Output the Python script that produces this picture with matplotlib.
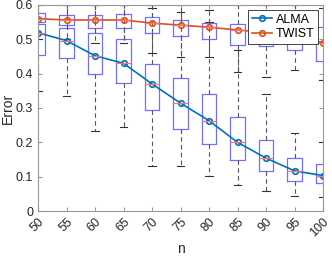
import matplotlib
matplotlib.use("Agg")
import matplotlib.pyplot as plt
import matplotlib.transforms as mtransforms

plt.rcParams["font.family"] = ["Liberation Sans", "DejaVu Sans"]

n = [50, 55, 60, 65, 70, 75, 80, 85, 90, 95, 100]

# ALMA box stats
alma_q1 = [0.454, 0.446, 0.400, 0.373, 0.294, 0.239, 0.195, 0.148, 0.117, 0.087, 0.082]
alma_med = [0.519, 0.496, 0.452, 0.430, 0.370, 0.314, 0.263, 0.200, 0.154, 0.117, 0.103]
alma_q3 = [0.545, 0.533, 0.518, 0.500, 0.428, 0.387, 0.341, 0.274, 0.207, 0.154, 0.137]
alma_lo = [0.350, 0.335, 0.233, 0.245, 0.131, 0.131, 0.102, 0.076, 0.058, 0.044, 0.040]
alma_hi = [0.600, 0.600, 0.600, 0.600, 0.590, 0.580, 0.550, 0.470, 0.340, 0.227, 0.200]

# TWIST box stats
twist_q1 = [0.550, 0.542, 0.533, 0.533, 0.519, 0.510, 0.500, 0.483, 0.480, 0.469, 0.437]
twist_med = [0.560, 0.556, 0.556, 0.556, 0.547, 0.541, 0.535, 0.527, 0.520, 0.510, 0.490]
twist_q3 = [0.577, 0.571, 0.571, 0.574, 0.565, 0.556, 0.548, 0.545, 0.550, 0.545, 0.536]
twist_lo = [0.500, 0.500, 0.489, 0.490, 0.460, 0.449, 0.449, 0.405, 0.390, 0.410, 0.380]
twist_hi = [0.600, 0.600, 0.600, 0.600, 0.600, 0.600, 0.585, 0.600, 0.600, 0.600, 0.590]


def stats(q1, med, q3, lo, hi):
    return [dict(q1=a, med=b, q3=c, whislo=d, whishi=e, fliers=[])
            for a, b, c, d, e in zip(q1, med, q3, lo, hi)]


fig = plt.figure(figsize=(3.32, 2.58), dpi=100)
ax = fig.add_axes([0.1145, 0.182, 0.8585, 0.799])

boxprops = dict(color="#7070ff", linewidth=0.9)
medprops = dict(color="#ff7070", linewidth=0.9)
whprops = dict(color="#555555", linewidth=0.8, linestyle=(0, (4, 3)))
capprops = dict(color="#333333", linewidth=0.8)

for s in (stats(alma_q1, alma_med, alma_q3, alma_lo, alma_hi),
          stats(twist_q1, twist_med, twist_q3, twist_lo, twist_hi)):
    ax.bxp(s, positions=n, widths=2.5, showfliers=False,
           boxprops=boxprops, medianprops=medprops,
           whiskerprops=whprops, capprops=capprops, manage_ticks=False)

ax.plot(n, alma_med, "o-", color="#0072BD", lw=1.2, ms=4,
        mfc="none", mew=1.2, label="ALMA")
ax.plot(n, twist_med, "o-", color="#D95319", lw=1.2, ms=4,
        mfc="none", mew=1.2, label="TWIST")

ax.set_xlim(50, 100)
ax.set_ylim(0, 0.6)
ax.set_xticks(n)
# rotated labels anchored at their top-right end, like matlab
shift = mtransforms.ScaledTranslation(2 / 100, -4 / 100, fig.dpi_scale_trans)
ax.set_xticklabels([str(v) for v in n], rotation=45, ha="right", va="top",
                   rotation_mode="anchor")
for lab in ax.get_xticklabels():
    lab.set_transform(lab.get_transform() + shift)
ax.set_yticks([0, 0.1, 0.2, 0.3, 0.4, 0.5, 0.6])
ax.set_yticklabels(["0", "0.1", "0.2", "0.3", "0.4", "0.5", "0.6"])
ax.tick_params(direction="in", top=True, right=True, length=3,
               labelsize=9, colors="#999999", labelcolor="#262626")
for sp in ax.spines.values():
    sp.set_color("#999999")
    sp.set_linewidth(0.8)
ax.set_xlabel("n", fontsize=10, color="#262626", labelpad=2)
ax.set_ylabel("Error", fontsize=10, color="#262626", labelpad=1)

leg = ax.legend(loc="upper right", fontsize=9, fancybox=False,
                framealpha=1, edgecolor="#262626", borderpad=0.3,
                handlelength=1.6, handletextpad=0.3, labelspacing=0.2,
                borderaxespad=0.4)
leg.get_frame().set_linewidth(0.6)

fig.savefig("out.png", dpi=100)
